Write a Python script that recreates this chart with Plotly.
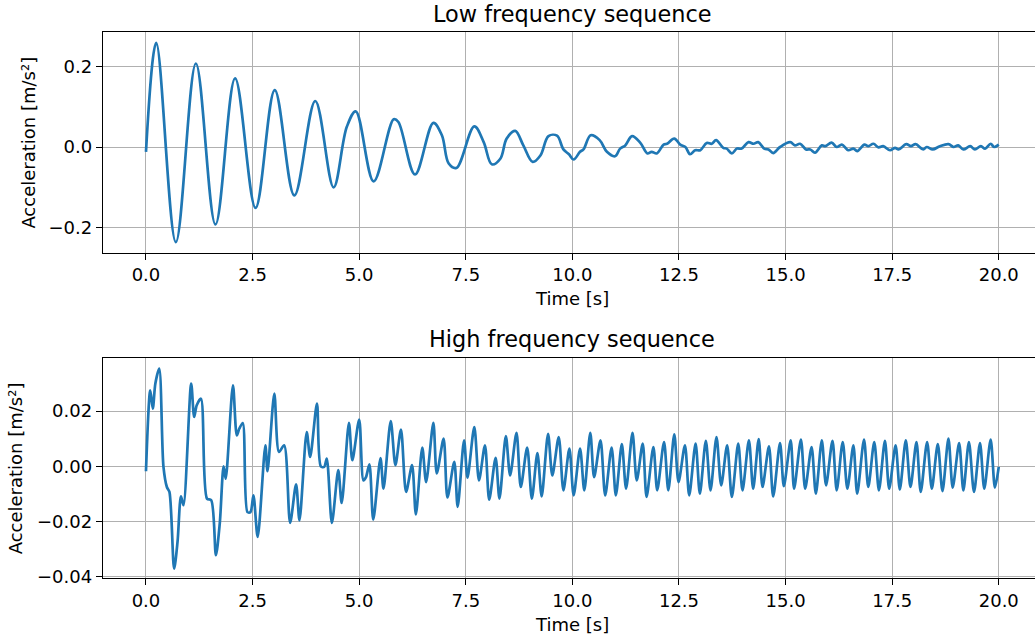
import plotly.graph_objects as go

# ---- data ----
low_t = [0.00, 0.24, 0.70, 1.17, 1.63, 2.09, 2.57, 3.02, 3.48, 3.97, 4.40, 4.71, 4.92, 5.34, 5.81, 5.92,
         6.31, 6.74, 6.94, 7.10, 7.28, 7.70, 7.92, 8.11, 8.31, 8.46, 8.66, 8.85, 9.07, 9.25, 9.44, 9.64,
         9.79, 9.92, 10.03, 10.18, 10.26, 10.43, 10.64, 10.81, 11.00, 11.12, 11.24, 11.40, 11.59, 11.76,
         11.86, 11.98, 12.14, 12.22, 12.39, 12.53, 12.65, 12.76, 12.88, 13.00, 13.15, 13.27, 13.37, 13.54,
         13.62, 13.74, 13.86, 13.97, 14.13, 14.25, 14.36, 14.50, 14.60, 14.71, 14.87, 15.11, 15.22, 15.34,
         15.48, 15.58, 15.69, 15.85, 15.93, 16.08, 16.20, 16.32, 16.47, 16.59, 16.68, 16.85, 16.94, 17.06,
         17.18, 17.29, 17.45, 17.57, 17.65, 17.83, 17.94, 18.05, 18.23, 18.31, 18.45, 18.62, 18.82, 18.94,
         19.05, 19.17, 19.33, 19.44, 19.58, 19.68, 19.81, 19.89, 20.00]
low_a = [-0.012, 0.258, -0.236, 0.207, -0.192, 0.170, -0.151, 0.141, -0.120, 0.114, -0.100, 0.050, 0.0885,
         -0.085, 0.069, 0.062, -0.068, 0.060, 0.029, -0.041, -0.052, 0.051, 0.012, -0.043, -0.029, 0.021,
         0.040, 0.004, -0.037, -0.021, 0.027, 0.028, -0.006, -0.018, -0.031, -0.012, -0.006, 0.029, 0.017,
         -0.012, -0.023, -0.004, 0.004, 0.027, 0.011, -0.016, -0.012, -0.016, 0.006, 0.008, 0.021, 0.006,
         0.000, -0.018, -0.008, -0.008, 0.010, 0.008, 0.017, -0.002, -0.004, -0.016, -0.004, -0.004, 0.012,
         0.008, 0.012, -0.004, -0.006, -0.015, 0.000, 0.012, 0.004, 0.008, -0.006, -0.006, -0.014, 0.004,
         0.002, 0.011, 0.000, 0.006, -0.008, -0.004, -0.010, 0.006, 0.002, 0.008, -0.001, 0.002, -0.008,
         -0.002, -0.006, 0.007, 0.002, 0.007, -0.006, 0.000, -0.006, 0.002, 0.007, 0.000, 0.004, -0.006,
         0.002, -0.006, 0.002, -0.004, 0.008, 0.000, 0.006]

high_t = [0.00, 0.10, 0.16, 0.22, 0.31, 0.41, 0.49, 0.55, 0.66, 0.74, 0.82, 0.88, 1.06, 1.13, 1.19, 1.29,
          1.43, 1.53, 1.64, 1.73, 1.82, 1.87, 2.04, 2.13, 2.19, 2.27, 2.38, 2.45, 2.52, 2.62, 2.80, 2.85,
          3.01, 3.12, 3.24, 3.38, 3.52, 3.60, 3.77, 3.85, 4.01, 4.10, 4.18, 4.24, 4.36, 4.51, 4.59, 4.76,
          4.84, 5.00, 5.10, 5.16, 5.24, 5.33, 5.50, 5.57, 5.74, 5.85, 5.98, 6.10, 6.24, 6.33, 6.48, 6.57,
          6.74, 6.82, 6.98, 7.07, 7.23, 7.31, 7.46, 7.54, 7.70, 7.81, 7.95, 8.05, 8.20, 8.29, 8.44, 8.54,
          8.69, 8.79, 8.94, 9.05, 9.18, 9.28, 9.43, 9.53, 9.68, 9.79, 9.93, 10.03, 10.18, 10.28, 10.42,
          10.51, 10.66, 10.77, 10.92, 11.02, 11.16, 11.26, 11.41, 11.51, 11.65, 11.74, 11.90, 11.99, 12.15,
          12.25, 12.39, 12.49, 12.64, 12.74, 12.89, 12.99, 13.13, 13.24, 13.38, 13.49, 13.63, 13.74, 13.89,
          13.99, 14.14, 14.24, 14.37, 14.46, 14.61, 14.71, 14.87, 14.96, 15.12, 15.20, 15.36, 15.46, 15.61,
          15.71, 15.85, 15.95, 16.10, 16.20, 16.34, 16.45, 16.59, 16.68, 16.84, 16.94, 17.08, 17.19, 17.33,
          17.43, 17.58, 17.68, 17.82, 17.93, 18.07, 18.17, 18.32, 18.43, 18.57, 18.68, 18.82, 18.92, 19.07,
          19.17, 19.30, 19.42, 19.56, 19.66, 19.81, 19.91, 20.00]
high_a = [-0.0018, 0.0275, 0.0209, 0.0300, 0.0354, -0.0002, -0.0075, -0.0093, -0.0371, -0.0274, -0.0109,
          -0.0141, 0.0300, 0.0179, 0.0221, 0.0245, -0.0117, -0.0123, -0.0322, -0.0208, 0.0000, -0.0045,
          0.0293, 0.0112, 0.0137, 0.0157, -0.0166, -0.0166, -0.0105, -0.0256, 0.0076, -0.0018, 0.0263,
          0.0052, 0.0076, -0.0205, -0.0065, -0.0196, 0.0124, 0.0034, 0.0227, 0.0000, -0.0002, 0.0028,
          -0.0205, -0.0014, -0.0133, 0.0157, 0.0022, 0.0169, -0.0051, -0.0039, 0.0007, -0.0193, 0.0030,
          -0.0081, 0.0164, 0.0004, 0.0133, -0.0093, 0.0004, -0.0174, 0.0068, -0.0057, 0.0157, -0.0026,
          0.0100, -0.0113, 0.0016, -0.0147, 0.0094, -0.0041, 0.0142, -0.0051, 0.0076, -0.0121, 0.0031,
          -0.0117, 0.0109, -0.0033, 0.0121, -0.0075, 0.0068, -0.0117, 0.0048, -0.0109, 0.0118, -0.0033,
          0.0106, -0.0087, 0.0064, -0.0105, 0.0064, -0.0087, 0.0121, -0.0039, 0.0094, -0.0105, 0.0068,
          -0.0105, 0.0080, -0.0081, 0.0121, -0.0051, 0.0082, -0.0111, 0.0070, -0.0087, 0.0088, -0.0087,
          0.0116, -0.0057, 0.0076, -0.0105, 0.0082, -0.0099, 0.0092, -0.0087, 0.0106, -0.0069, 0.0076,
          -0.0111, 0.0082, -0.0087, 0.0094, -0.0081, 0.0099, -0.0075, 0.0072, -0.0109, 0.0084, -0.0072,
          0.0094, -0.0081, 0.0097, -0.0081, 0.0070, -0.0099, 0.0094, -0.0069, 0.0092, -0.0087, 0.0088,
          -0.0081, 0.0076, -0.0099, 0.0097, -0.0075, 0.0088, -0.0087, 0.0092, -0.0081, 0.0076, -0.0084,
          0.0094, -0.0075, 0.0088, -0.0093, 0.0088, -0.0081, 0.0080, -0.0090, 0.0100, -0.0077, 0.0084,
          -0.0087, 0.0088, -0.0093, 0.0084, -0.0081, 0.0097, -0.0077, -0.0002]

titles = ["Low frequency sequence", "High frequency sequence"]
x_label = "Time [s]"
y_label = "Acceleration [m/s²]"

# ---- figure ----
W, H = 1035, 639
ML, MR, MT, MB = 102.7, 0, 31.7, 61.3
PW, PH = W - ML - MR, H - MT - MB


def px_x(p):
    return (p - ML) / PW


def px_y(p):
    return (H - MB - p) / PH


FONT = "DejaVu Sans"
LINE = "#1f77b4"

fig = go.Figure()
fig.add_trace(go.Scatter(x=low_t, y=low_a, mode="lines", line=dict(color=LINE, width=2.7, shape="spline", smoothing=1.0),
                         xaxis="x", yaxis="y", showlegend=False))
fig.add_trace(go.Scatter(x=high_t, y=high_a, mode="lines", line=dict(color=LINE, width=2.7, shape="spline", smoothing=0.8),
                         xaxis="x2", yaxis="y2", showlegend=False))

ax_common = dict(showline=True, linecolor="black", linewidth=1.4, ticks="outside", ticklen=6, tickwidth=1.4,
                 tickcolor="black", showgrid=True, gridcolor="#b0b0b0", gridwidth=1.3, zeroline=False,
                 tickfont=dict(family=FONT, size=18, color="black"))

top_dom = [px_y(252.3), 1.0]
bot_dom = [0.0, px_y(357.7)]

fig.update_layout(
    width=W, height=H, margin=dict(l=ML, r=MR, t=MT, b=MB),
    paper_bgcolor="white", plot_bgcolor="white",
    font=dict(family=FONT, size=18, color="black"),
    xaxis=dict(domain=[0, 1], range=[-1.008, 20.85], dtick=2.5, tick0=0, tickformat=".1f", mirror=True,
               anchor="y", **ax_common),
    yaxis=dict(domain=top_dom, range=[-0.2618, 0.2851], dtick=0.2, tick0=0, tickformat=".1f",
               anchor="x", **ax_common),
    xaxis2=dict(domain=[0, 1], range=[-1.008, 20.85], dtick=2.5, tick0=0, tickformat=".1f", mirror=True,
                anchor="y2", **ax_common),
    yaxis2=dict(domain=bot_dom, range=[-0.04047, 0.03924], dtick=0.02, tick0=0, tickformat=".2f",
                anchor="x2", **ax_common),
)

cx = px_x(572)
ann = []
ann.append(dict(text=titles[0], x=cx, y=px_y(14), xref="paper", yref="paper", showarrow=False,
                xanchor="center", yanchor="middle", font=dict(family=FONT, size=22.4, color="black")))
ann.append(dict(text=titles[1], x=cx, y=px_y(339), xref="paper", yref="paper", showarrow=False,
                xanchor="center", yanchor="middle", font=dict(family=FONT, size=22.4, color="black")))
ann.append(dict(text=x_label, x=cx, y=px_y(298), xref="paper", yref="paper", showarrow=False,
                xanchor="center", yanchor="middle", font=dict(family=FONT, size=18, color="black")))
ann.append(dict(text=x_label, x=cx, y=px_y(624), xref="paper", yref="paper", showarrow=False,
                xanchor="center", yanchor="middle", font=dict(family=FONT, size=18, color="black")))
ann.append(dict(text=y_label, x=px_x(28), y=px_y(142), xref="paper", yref="paper", showarrow=False, textangle=-90,
                xanchor="center", yanchor="middle", font=dict(family=FONT, size=18, color="black")))
ann.append(dict(text=y_label, x=px_x(16), y=px_y(467.7), xref="paper", yref="paper", showarrow=False, textangle=-90,
                xanchor="center", yanchor="middle", font=dict(family=FONT, size=18, color="black")))
fig.update_layout(annotations=ann)

fig.write_html("out.html")
